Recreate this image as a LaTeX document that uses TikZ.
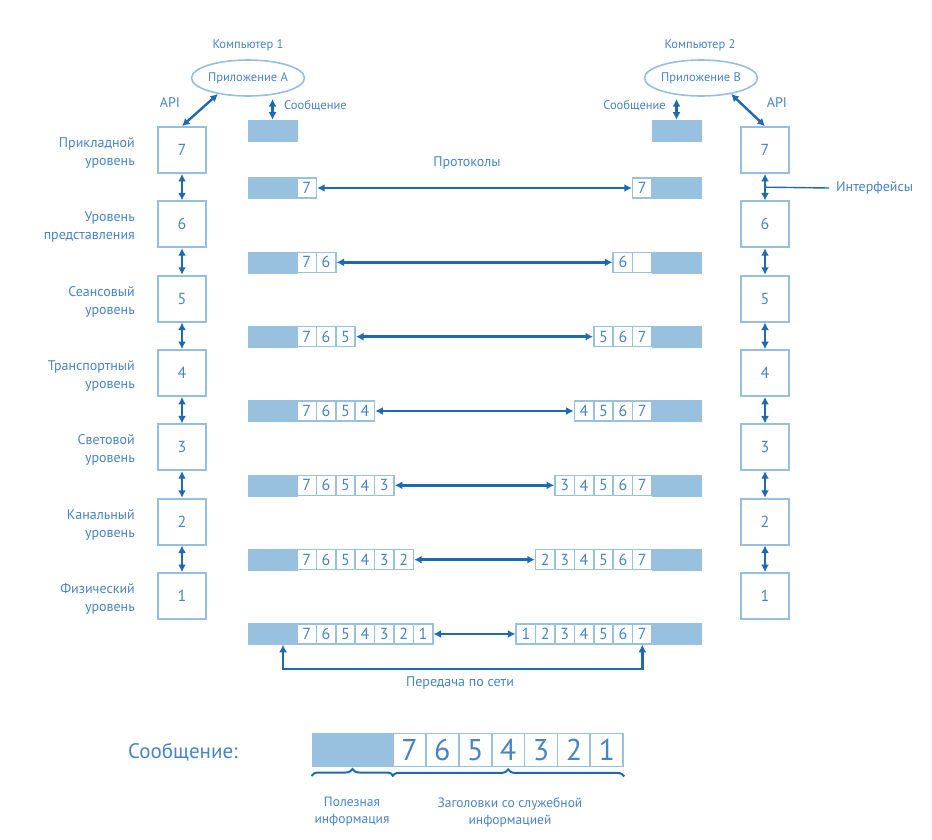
\documentclass[tikz,border=0pt]{standalone}
\usepackage{fontspec}
\setmainfont{PT Sans}
\usetikzlibrary{shapes.geometric,arrows.meta,decorations.pathreplacing,calc}
\definecolor{txt}{RGB}{72,132,196}
\definecolor{boxc}{RGB}{150,190,225}
\definecolor{barc}{RGB}{152,193,224}
\definecolor{arr}{RGB}{30,105,175}
\begin{document}
\begin{tikzpicture}[x=1pt,y=-1pt,
  lvl/.style={draw=boxc,line width=1.8pt,minimum width=48pt,minimum height=46pt,inner sep=0pt,text=txt,font=\fontsize{16}{16}\selectfont},
  bar/.style={fill=barc,draw=barc,minimum width=49pt,minimum height=21pt,inner sep=0pt,line width=0.6pt},
  cell/.style={fill=white,draw=barc,line width=1.6pt,minimum width=19.4pt,minimum height=20pt,inner sep=0pt,text=txt,font=\fontsize{16}{16}\selectfont},
  bigcell/.style={fill=white,draw=barc,line width=1.8pt,minimum width=33pt,minimum height=33pt,inner sep=0pt,text=txt,font=\fontsize{30}{30}\selectfont},
  dbl/.style={{Latex[length=7.5pt,width=8pt]}-{Latex[length=7.5pt,width=8pt]},draw=arr,line width=2.4pt},
  lab/.style={text=txt,font=\fontsize{14}{18}\selectfont,align=right,inner sep=0pt},
  small/.style={text=txt,font=\fontsize{12.5}{14}\selectfont,inner sep=0pt},
  app/.style={ellipse,draw=boxc,line width=1.6pt,minimum width=112pt,minimum height=36pt,inner sep=0pt,text=txt,font=\fontsize{12.5}{14}\selectfont},
  brc/.style={draw=arr,line width=2pt,decorate,decoration={brace,amplitude=7pt}},
]
\useasboundingbox (0,0) rectangle (932,839);

% computers and applications
\node[small] (K1) at (248,45) {Компьютер 1};
\node[small] (K2) at (700,45) {Компьютер 2};
\node[app] (AppA) at (248,78) {Приложение А};
\node[app] (AppB) at (701,78) {Приложение В};

% level boxes
\foreach \k in {1,...,7}{
  \pgfmathsetmacro\yy{150+74.33*(7-\k)}
  \node[lvl] (A\k) at (182,\yy) {\k};
  \node[lvl] (B\k) at (765,\yy) {\k};
}
\foreach \k [evaluate=\k as \j using int(\k-1)] in {7,...,2}{
  \draw[dbl] (A\k.south) -- (A\j.north);
  \draw[dbl] (B\k.south) -- (B\j.north);
}

% level labels
\foreach \k/\t in {7/{Прикладной\\уровень},6/{Уровень\\представления},5/{Сеансовый\\уровень},4/{Транспортный\\уровень},3/{Световой\\уровень},2/{Канальный\\уровень},1/{Физический\\уровень}}{
  \pgfmathsetmacro\yy{153+74.33*(7-\k)}
  \node[lab,anchor=east] (N\k) at (135,\yy) {\t};
}

% API
\node[text=txt,font=\fontsize{14}{14}\selectfont,inner sep=0pt] (apiA) at (170,103) {API};
\node[text=txt,font=\fontsize{14}{14}\selectfont,inner sep=0pt] (apiB) at (777,103) {API};
\draw[dbl] (AppA.-152) -- (A7.north);
\draw[dbl] (AppB.-28) -- (B7.north);

% top messages
\node[bar] (MA) at (272.5,130.5) {};
\node[bar] (MB) at (676.5,130.5) {};
\coordinate (ma) at (272.5,99);
\coordinate (mb) at (676.5,99);
\draw[dbl] (ma) -- (MA.north);
\draw[dbl] (mb) -- (MB.north);
\node[small,anchor=west] (sA) at (284,106) {Сообщение};
\node[small,anchor=east] (sB) at (666,106) {Сообщение};

% protocols
\node[lab] (prot) at (467,163) {Протоколы};

% rows
\foreach \r in {1,...,7}{
  \pgfmathsetmacro\yy{188+74.33*(\r-1)}
  \node[bar] (LB\r) at (272.5,\yy) {};
  \node[bar] (RB\r) at (676.5,\yy) {};
  \foreach \c in {1,...,\r}{
    \pgfmathtruncatemacro\ll{8-\c}
    \pgfmathsetmacro\xl{297+19.4*(\c-0.5)}
    \node[cell] (L\r-\c) at (\xl,\yy) {\ll};
    \pgfmathtruncatemacro\rl{7-\r+\c}
    \pgfmathsetmacro\xr{652-19.4*(\r-\c+0.5)}
    \node[cell] (R\r-\c) at (\xr,\yy) {\ifnum\r=2 \ifnum\c=2 \else\rl\fi\else\rl\fi};
  }
  \draw[dbl] (L\r-\r.east) -- (R\r-1.west);
}

% interfaces
\coordinate (ifc) at ($(B7.south)!0.5!(B6.north)$);
\node[lab,anchor=west] (IF) at (836,188) {Интерфейсы};
\draw[draw=arr,line width=1.4pt] (ifc) -- ([xshift=-7pt]IF.west);

% network transfer
\draw[dbl] ([xshift=10.5pt]LB7.south) -- ++(0,24) -| (R7-7.south);
\node[lab] (net) at (460,683) {Передача по сети};

% bottom message
\node[text=txt,font=\fontsize{21}{21}\selectfont,inner sep=0pt] (msg) at (183,752) {Сообщение:};
\node[fill=barc,draw=barc,minimum width=81pt,minimum height=33pt,inner sep=0pt,line width=1pt] (BP) at (352.5,750) {};
\foreach \c in {1,...,7}{
  \pgfmathtruncatemacro\ll{8-\c}
  \pgfmathsetmacro\xx{393+32.9*(\c-0.5)}
  \node[bigcell] (BC\c) at (\xx,750) {\ll};
}
\draw[brc] ([yshift=-9pt]BP.south west) -- ([yshift=-9pt]BP.south east);
\draw[brc] ([yshift=-9pt]BC1.south west) -- ([yshift=-9pt]BC7.south east);
\node[text=txt,font=\fontsize{13.5}{17}\selectfont,align=center,inner sep=0pt] (pay) at (352,812) {Полезная\\информация};
\node[text=txt,font=\fontsize{13.5}{17}\selectfont,align=center,inner sep=0pt] (hdr) at (510,812) {Заголовки со служебной\\информацией};
\end{tikzpicture}
\end{document}
